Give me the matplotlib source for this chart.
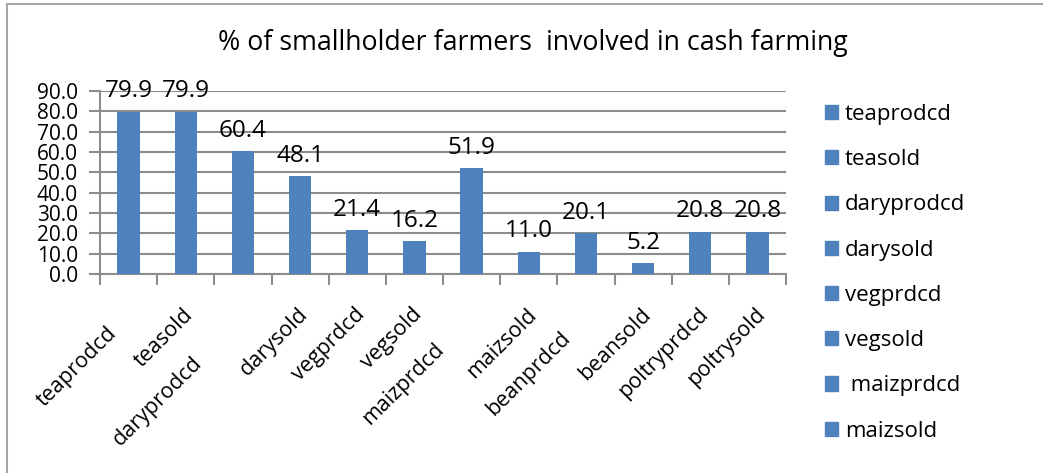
import matplotlib.pyplot as plt
from matplotlib.patches import Rectangle, Patch
from matplotlib.transforms import ScaledTranslation

plt.rcParams['font.family'] = ['Open Sans', 'DejaVu Sans']

# data
crops = ['teaprodcd', 'teasold', 'daryprodcd', 'darysold', 'vegprdcd', 'vegsold',
         'maizprdcd', 'maizsold', 'beanprdcd', 'beansold', 'poltryprdcd', 'poltrysold']
share = [79.9, 79.9, 60.4, 48.1, 21.4, 16.2, 51.9, 11.0, 20.1, 5.2, 20.8, 20.8]
legend_labels = ['teaprodcd', 'teasold', 'daryprodcd', 'darysold', 'vegprdcd',
                 'vegsold', ' maizprdcd', 'maizsold']
title = '% of smallholder farmers  involved in cash farming'

bar_col = '#4F81BD'
grid_col = '#8c8c8c'

W, H = 1043, 473
fig = plt.figure(figsize=(W / 100, H / 100), dpi=100)
ax = fig.add_axes([100 / W, 1 - 274 / H, (786 - 100) / W, (274 - 91) / H])

xs = list(range(len(crops)))
ax.bar(xs, share, width=0.39, color=bar_col, zorder=3)

for x, v in zip(xs, share):
    ax.annotate('%.1f' % v, (x, v), xytext=(0, 6), textcoords='offset points',
                ha='center', va='bottom', fontsize=17.5, zorder=4)

ax.set_xlim(-0.5, len(crops) - 0.5)
ax.set_ylim(0, 90)
ax.set_yticks(range(0, 91, 10))
ax.set_yticklabels(['%.1f' % t for t in range(0, 91, 10)], fontsize=15)
ax.yaxis.grid(True, color=grid_col, lw=1.5, zorder=0)
ax.set_xticks([i - 0.5 for i in range(len(crops) + 1)])
ax.set_xticklabels([])
ax.tick_params(axis='both', color=grid_col, width=1.5, length=8)
ax.tick_params(axis='y', pad=8)

for s in ['top', 'right']:
    ax.spines[s].set_visible(False)
for s in ['left', 'bottom']:
    ax.spines[s].set_color(grid_col)
    ax.spines[s].set_linewidth(1.5)

# excel staggers some of the long rotated labels further down
shift_px = [27, 0, 68, 0, 0, 0, 50, 0, 33, 0, 0, 0]
for x, name, d in zip(xs, crops, shift_px):
    off = ScaledTranslation((-3 - d * 0.707) / 100, (-30 - d * 0.707) / 100,
                            fig.dpi_scale_trans)
    ax.text(x, 0, name, rotation=45, rotation_mode='anchor', ha='right', va='top',
            fontsize=15.5, transform=ax.transData + off)

fig.text(533 / W, 1 - 43 / H, title, ha='center', va='center', fontsize=19.3)

handles = [Patch(color=bar_col) for _ in legend_labels]
fig.legend(handles, legend_labels, loc='upper left',
           bbox_to_anchor=(825 / W, 1 - 104 / H), frameon=False, fontsize=16,
           handlelength=0.6, handleheight=0.6, handletextpad=0.3,
           labelspacing=1.09, borderpad=0, borderaxespad=0)

fig.patches.append(Rectangle((7 / W, -0.1), 2, 1 - 4 / H + 0.1, transform=fig.transFigure,
                             fill=False, edgecolor='#a6a6a6', lw=1.5))

fig.savefig('out.png', dpi=100)
